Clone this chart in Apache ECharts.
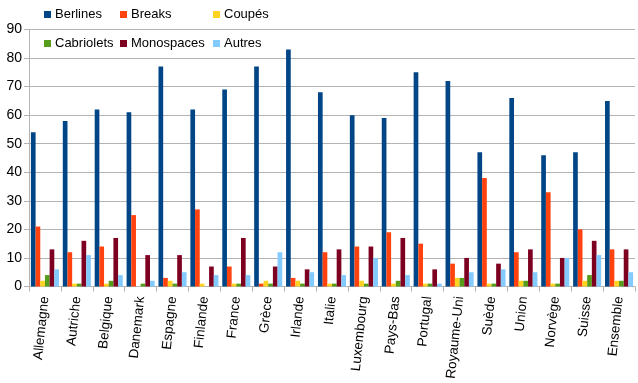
<!DOCTYPE html>
<html>
<head>
<meta charset="utf-8">
<script src="https://cdn.jsdelivr.net/npm/echarts@6/dist/echarts.min.js"></script>
<style>
html,body{margin:0;padding:0;background:#fff;}
#c{width:638px;height:383px;}
</style>
</head>
<body>
<div id="c"></div>
<script>
const categories = ['Allemagne','Autriche','Belgique','Danemark','Espagne','Finlande','France','Grèce','Irlande','Italie','Luxembourg','Pays-Bas','Portugal','Royaume-Uni','Suède','Union','Norvège','Suisse','Ensemble'];
const berlines   = [54,58,62,61,77,62,69,77,83,68,60,59,75,72,47,66,46,47,65];
const breaks     = [21,12,14,25,3,27,7,1,3,12,14,19,15,8,38,12,33,20,13];
const coupes     = [2,1,1,0,2,1,1,2,2,1,2,1,1,3,1,2,1,2,2];
const cabriolets = [4,1,2,1,1,0,1,1,1,1,1,2,1,3,1,2,1,4,2];
const monospaces = [13,16,17,11,11,7,17,7,6,13,14,17,6,10,8,13,10,16,13];
const autres     = [6,11,4,2,5,4,4,12,5,4,10,4,1,5,6,5,10,11,5];
const yTicks = [0,10,20,30,40,50,60,70,80,90];

const seriesNames = ['Berlines','Breaks','Coupés','Cabriolets','Monospaces','Autres'];
const seriesData = [berlines, breaks, coupes, cabriolets, monospaces, autres];
const colors = ['#004586','#ff420e','#ffd320','#579d1c','#7e0021','#83caff'];

const font = 'Liberation Sans, Arial, sans-serif';
const legendPos = [
  {left:44, top:8}, {left:120, top:8}, {left:213, top:8},
  {left:44, top:37}, {left:120, top:37}, {left:213, top:37}
];

const chart = echarts.init(document.getElementById('c'), null, {renderer:'canvas'});
chart.setOption({
  animation:false,
  color: colors,
  textStyle:{fontFamily:font},
  legend: seriesNames.map((n,i)=>({
    data:[n], left:legendPos[i].left, top:legendPos[i].top, padding:0,
    itemWidth:7, itemHeight:7, itemGap:0, icon:'rect',
    textStyle:{fontFamily:font, fontSize:13, color:'#000', padding:[0,0,0,-1]}
  })),
  grid:{left:29, right:3, top:29.5, bottom:96.5, containLabel:false},
  xAxis:{
    type:'category', data:categories,
    axisLine:{lineStyle:{color:'#b3b3b3', width:1}},
    axisTick:{show:true, length:5, lineStyle:{color:'#b3b3b3'}},
    axisLabel:{rotate:84, interval:0, margin:10, fontFamily:font, fontSize:13.5, color:'#000'},
    splitLine:{show:false}
  },
  yAxis:{
    type:'value', min:yTicks[0], max:yTicks[yTicks.length-1], interval:10,
    axisLine:{show:true, lineStyle:{color:'#b3b3b3', width:1}},
    axisTick:{show:true, length:5, lineStyle:{color:'#b3b3b3'}},
    axisLabel:{margin:7, fontFamily:font, fontSize:14, color:'#000'},
    splitLine:{show:true, lineStyle:{color:'#b3b3b3', width:1}}
  },
  series: seriesNames.map((n,i)=>({
    name:n, type:'bar', data:seriesData[i],
    barGap:'0%', barCategoryGap:'12%',
    itemStyle:{color:colors[i]}
  }))
});
</script>
</body>
</html>
